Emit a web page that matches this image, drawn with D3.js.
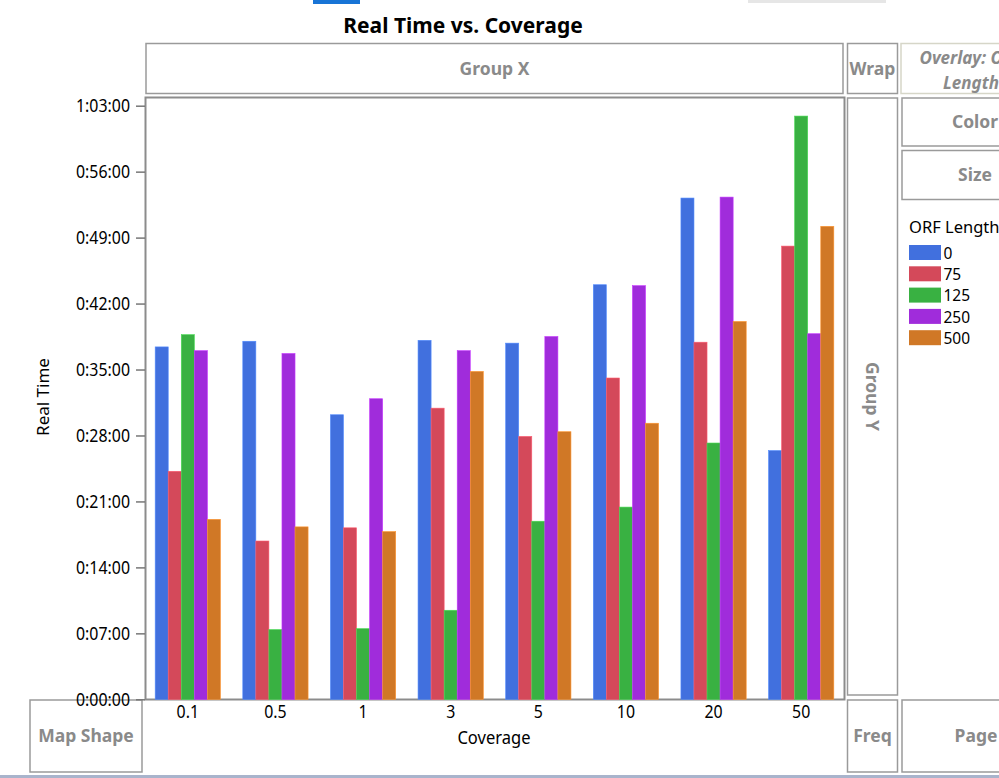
<!DOCTYPE html>
<html>
<head>
<meta charset="utf-8">
<script src="https://cdn.jsdelivr.net/npm/d3@7"></script>
<style>
  html, body { margin: 0; padding: 0; background: #fff; }
  svg { display: block; font-family: "Noto Sans", "Open Sans", sans-serif; }
  .sq { transform-box: fill-box; }
</style>
</head>
<body>
<svg id="chart" width="999" height="778"></svg>
<script>
// ---- data (minutes) ----
const coverage = ["0.1", "0.5", "1", "3", "5", "10", "20", "50"];
const orfLengths = ["0", "75", "125", "250", "500"];
const time0   = [37.4, 38.0, 30.2, 38.1, 37.8, 44.0, 53.2, 26.4];
const time75  = [24.2, 16.8, 18.2, 30.9, 27.9, 34.1, 37.9, 48.1];
const time125 = [38.7, 7.4, 7.5, 9.45, 18.9, 20.4, 27.2, 61.9];
const time250 = [37.0, 36.7, 31.9, 37.0, 38.5, 43.9, 53.3, 38.8];
const time500 = [19.1, 18.3, 17.8, 34.8, 28.4, 29.3, 40.1, 50.2];
const yTicks  = [0, 7, 14, 21, 28, 35, 42, 49, 56, 63];
const colors  = ["#4170DE", "#D4495A", "#39B142", "#A02CDB", "#D07826"];

const seriesValues = [time0, time75, time125, time250, time500];

const svg = d3.select("#chart");
const boxStroke = "#9a9a9a";
const labelGray = "#8a8a8a";

// horizontally squeeze a text selection, keeping its anchor point
function squeeze(sel, k) {
  sel.each(function () {
    const anchor = getComputedStyle(this).textAnchor || "start";
    const ox = anchor === "end" ? "100%" : anchor === "middle" ? "50%" : "0%";
    this.classList.add("sq");
    this.style.transformOrigin = `${ox} 50%`;
    this.style.transform = `scaleX(${k})`;
  });
}

// UI remnants at the top
svg.append("rect").attr("x", 313).attr("y", 0).attr("width", 47).attr("height", 4).attr("fill", "#1874d6");
svg.append("rect").attr("x", 748).attr("y", 0).attr("width", 138).attr("height", 3).attr("fill", "#e6e6e6");

// Title
svg.append("text").attr("x", 463).attr("y", 33).attr("text-anchor", "middle")
  .attr("font-size", 21).attr("font-weight", "bold").attr("fill", "#000")
  .text("Real Time vs. Coverage");

// helper for drop zone boxes
function box(x, y, w, h, label, opts = {}) {
  svg.append("rect").attr("x", x).attr("y", y).attr("width", w).attr("height", h)
    .attr("fill", "#fff").attr("stroke", opts.stroke || boxStroke).attr("stroke-width", 1.5);
  if (label) {
    const t = svg.append("text").attr("fill", labelGray).attr("font-weight", "bold")
      .attr("font-size", opts.size || 17.5).attr("text-anchor", "middle");
    if (opts.rotate) {
      t.attr("transform", `translate(${x + w / 2},${y + h / 2}) rotate(90)`).attr("dy", "0.35em").text(label);
    } else if (opts.lines) {
      t.attr("font-style", "italic");
      opts.lines.forEach((ln, i) => {
        t.append("tspan").attr("x", opts.cx).attr("y", y + 20 + i * 25).text(ln);
      });
    } else {
      t.attr("x", opts.cx || x + w / 2).attr("y", y + h / 2).attr("dy", "0.35em").text(label);
    }
  }
}

box(146, 43.5, 697, 50, "Group X");
box(847.5, 43.5, 50, 50, "Wrap");
box(901, 43.5, 140, 50, "Overlay", { stroke: "#d6d6c8", lines: ["Overlay: ORF", "Length"], cx: 971, size: 17 });
box(847.5, 98, 50, 597, "Group Y", { rotate: true });
box(902, 98, 140, 48, "Color", { cx: 975 });
box(902, 150.5, 140, 49, "Size", { cx: 975 });
box(30, 700, 112, 72, "Map Shape");
box(847.5, 700, 50, 72, "Freq");
box(902, 700, 140, 72, "Page", { cx: 976 });

// bottom bar
svg.append("rect").attr("x", 0).attr("y", 775).attr("width", 999).attr("height", 3).attr("fill", "#a9b4cc");

// ---- scales ----
const x0 = d3.scaleBand().domain(coverage).range([144, 845]).paddingInner(0.255).paddingOuter(0.1275);
const x1 = d3.scaleBand().domain(orfLengths).range([0, x0.bandwidth()]);
const y = d3.scaleLinear().domain([0, 63]).range([699.3, 105.7]);

// plot frame
svg.append("rect").attr("x", 145.5).attr("y", 97.5).attr("width", 699).attr("height", 602)
  .attr("fill", "#fff").attr("stroke", "#8c8c8c").attr("stroke-width", 2);

// bars
const groups = svg.append("g").selectAll("g").data(coverage).join("g")
  .attr("transform", d => `translate(${x0(d)},0)`);
groups.selectAll("rect")
  .data((c, ci) => orfLengths.map((o, si) => ({ o, si, v: seriesValues[si][ci] })))
  .join("rect")
  .attr("x", d => x1(d.o))
  .attr("y", d => y(d.v))
  .attr("width", x1.bandwidth())
  .attr("height", d => y(0) - y(d.v))
  .attr("fill", d => colors[d.si])
  .attr("stroke", d => d3.color(colors[d.si]).brighter(0.6))
  .attr("stroke-width", 0.6);

// y axis
function fmt(m) {
  const h = Math.floor(m / 60), mm = m % 60;
  return `${h}:${String(mm).padStart(2, "0")}:00`;
}
const yAxis = svg.append("g").attr("transform", "translate(145,0)")
  .call(d3.axisLeft(y).tickValues(yTicks).tickFormat(fmt).tickSize(9).tickPadding(6));
yAxis.select(".domain").remove();
yAxis.selectAll(".tick line").attr("stroke", "#777").attr("stroke-width", 1.5);
yAxis.selectAll(".tick text").attr("font-size", 18.5).attr("fill", "#000")
  .attr("font-family", "'Noto Sans', sans-serif");
squeeze(yAxis.selectAll(".tick text"), 0.86);

// x axis
const xAxis = svg.append("g").attr("transform", "translate(0,699)")
  .call(d3.axisBottom(x0).tickSize(0).tickPadding(6));
xAxis.select(".domain").remove();
xAxis.selectAll(".tick text").attr("font-size", 18.5).attr("fill", "#000")
  .attr("font-family", "'Noto Sans', sans-serif");
squeeze(xAxis.selectAll(".tick text"), 0.86);

// axis titles
const covT = svg.append("text").attr("x", 494).attr("y", 744).attr("text-anchor", "middle")
  .attr("font-size", 18).attr("fill", "#000").text("Coverage");
squeeze(covT, 0.92);
svg.append("text").attr("transform", "translate(49,397) rotate(-90)").attr("text-anchor", "middle")
  .attr("font-size", 17).attr("fill", "#000").text("Real Time");

// legend
svg.append("text").attr("x", 909).attr("y", 233).attr("font-size", 16.5).attr("fill", "#000").text("ORF Length");
const leg = svg.append("g").selectAll("g").data(orfLengths).join("g")
  .attr("transform", (d, i) => `translate(909,${245 + i * 21.3})`);
leg.append("rect").attr("width", 32).attr("height", 15).attr("fill", (d, i) => colors[i]);
leg.append("text").attr("x", 34.5).attr("y", 8).attr("dy", "0.38em").attr("font-size", 15.5)
  .attr("fill", "#000").text(d => d);
</script>
</body>
</html>
